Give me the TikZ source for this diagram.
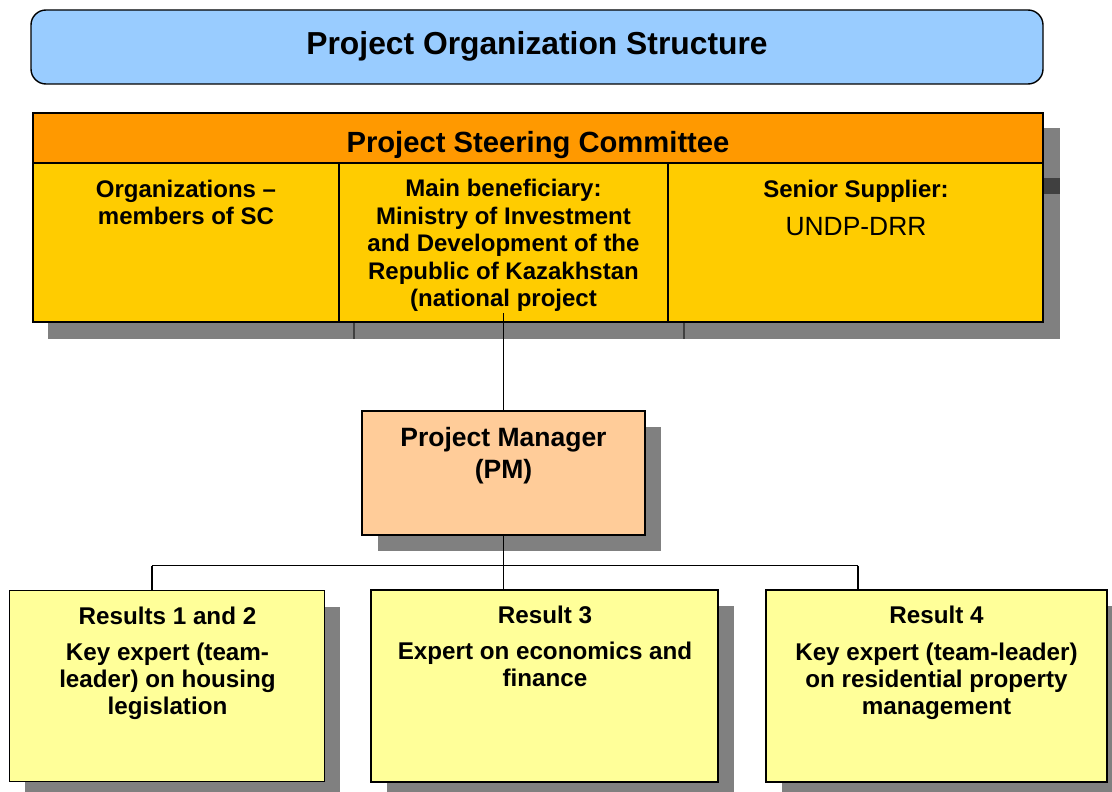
\documentclass[tikz,border=0pt]{standalone}
\usepackage{fontspec}
\setmainfont{Liberation Sans}
\usetikzlibrary{shadows}
\definecolor{titlefill}{HTML}{99CCFF}
\definecolor{headfill}{HTML}{FF9900}
\definecolor{cellfill}{HTML}{FFCC00}
\definecolor{pmfill}{HTML}{FFCC99}
\definecolor{resfill}{HTML}{FFFF99}
\definecolor{shadowgray}{HTML}{808080}
\definecolor{shadowdark}{HTML}{404040}
\begin{document}
\begin{tikzpicture}[x=1pt,y=-1pt,
  box/.style={draw=black, line width=1.4pt, inner sep=0pt, outer sep=0pt, rectangle},
  shadowed/.style={drop shadow={shadow xshift=16pt, shadow yshift=-16pt, fill=shadowgray, opacity=1}},
  % multi-line labels are placed by the baseline of their last line
  lbl/.style={anchor=base, align=center, inner sep=0pt, outer sep=0pt,
    font=\bfseries\fontsize{24}{27.4}\selectfont},
  reslbl/.style={lbl, font=\bfseries\fontsize{24.2}{27.2}\selectfont},
  wire/.style={draw=black, line width=1.4pt}]
\useasboundingbox (0,0) rectangle (1112,792);
\clip (0,0) rectangle (1112,792);

% title banner
\node[box, fill=titlefill, rounded corners=15pt, minimum width=1012pt, minimum height=74pt]
  (title) at (537,47) {};
\node[lbl, font=\bfseries\fontsize{31.8}{36}\selectfont] (titletext) at (537,55)
  {Project Organization Structure};

% steering committee: shadow with the echoes of its inner rules
\fill[shadowgray] (48,128) rectangle (1060,339);
\fill[shadowdark] (1043,178) rectangle (1060,194);
\draw[shadowdark, line width=1.4pt] (354,322) -- (354,339);
\draw[shadowdark, line width=1.4pt] (684,322) -- (684,339);

\node[box, fill=headfill, minimum width=1010pt, minimum height=50pt] (head) at (538,138) {};
\node[box, fill=cellfill, minimum width=306pt, minimum height=159pt] (c1) at (186,242.5) {};
\node[box, fill=cellfill, minimum width=329pt, minimum height=159pt] (c2) at (503.5,242.5) {};
\node[box, fill=cellfill, minimum width=375pt, minimum height=159pt] (c3) at (855.5,242.5) {};

\node[lbl, font=\bfseries\fontsize{29.2}{33}\selectfont] (headtext) at (538,153)
  {Project Steering Committee};
\node[lbl] (c1text) at (186,224.6) {Organizations –\\members of SC};
\node[lbl] (c2text) at (503.5,306.4) {Main beneficiary:\\Ministry of Investment\\and Development of the\\Republic of Kazakhstan\\(national project};
\node[lbl] (c3text) at (856,197) {Senior Supplier:};
\node[lbl, font=\fontsize{26.4}{30}\selectfont] (c3sub) at (856,235) {UNDP-DRR};

% project manager
\node[box, shadowed, fill=pmfill, minimum width=283pt, minimum height=124pt] (pm) at (503.5,473) {};
\node[lbl, font=\bfseries\fontsize{26.5}{31.3}\selectfont] (pmtext) at (503.5,478)
  {Project Manager\\(PM)};

% result teams
\node[box, shadowed, fill=resfill, minimum width=315pt, minimum height=191pt] (r1) at (166.7,686) {};
\node[box, shadowed, fill=resfill, minimum width=347pt, minimum height=192pt] (r2) at (544.5,686) {};
\node[box, shadowed, fill=resfill, minimum width=341pt, minimum height=192pt] (r3) at (936.3,686) {};

\node[reslbl] (r1head) at (167.5,624) {Results 1 and 2};
\node[reslbl] (r1text) at (167.5,714.4) {Key expert (team-\\leader) on housing\\legislation};
\node[reslbl] (r2head) at (545,623) {Result 3};
\node[reslbl] (r2text) at (545,686.2) {Expert on economics and\\finance};
\node[reslbl] (r3head) at (936.5,623) {Result 4};
\node[reslbl] (r3text) at (936.5,714.4) {Key expert (team-leader)\\on residential property\\management};

% connectors
\coordinate (stem) at (503.5,313);
\coordinate (j1) at (152,565.5);
\coordinate (j3) at (858,565.5);
\draw[wire] (stem) -- (pm.north);
\draw[wire] (pm.south) -- (pm.south |- r2.north);
\draw[wire] (j1) -- (j3);
\draw[wire] (j1) -- (j1 |- r1.north);
\draw[wire] (j3) -- (j3 |- r3.north);
\end{tikzpicture}
\end{document}
